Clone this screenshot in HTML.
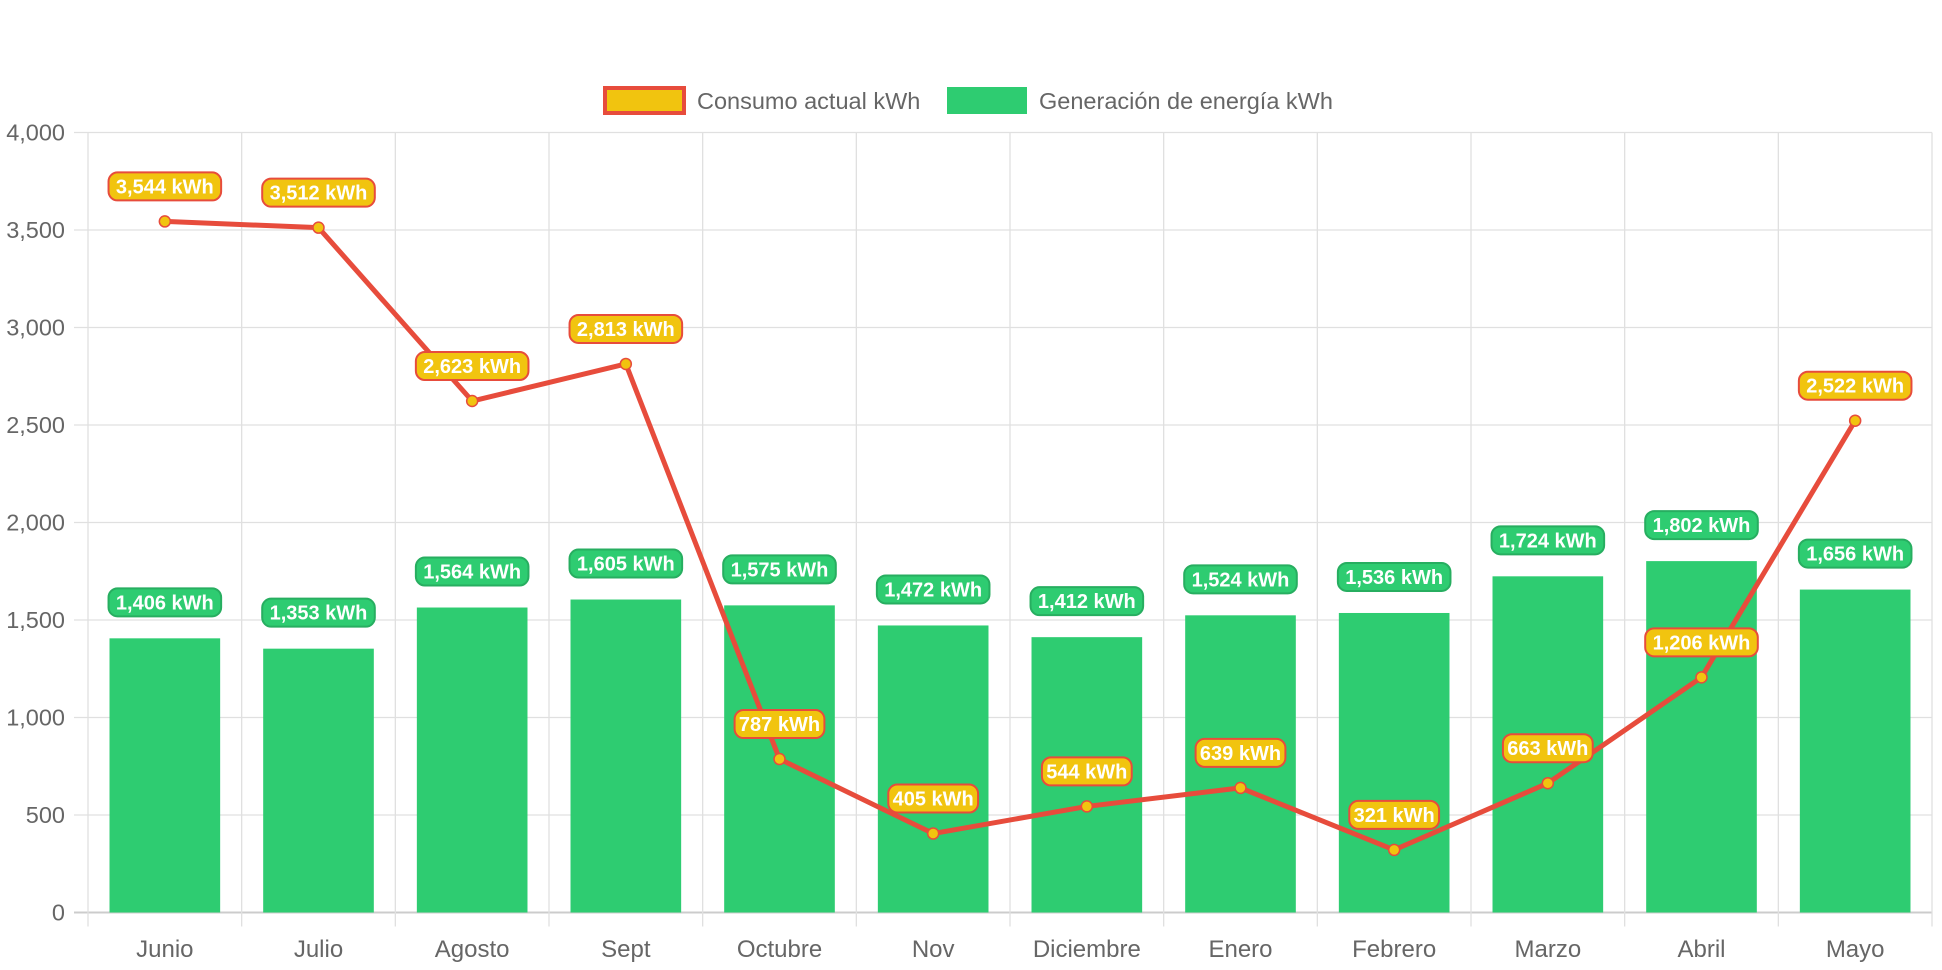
<!DOCTYPE html>
<html><head><meta charset="utf-8"><style>
html,body{margin:0;padding:0;background:#fff;}
svg{display:block;font-family:"Liberation Sans",Arial,sans-serif;}
</style></head><body>
<svg id="chart" width="1942" height="970" viewBox="0 0 1942 970"></svg>
<script>
const categories=["Junio","Julio","Agosto","Sept","Octubre","Nov","Diciembre","Enero","Febrero","Marzo","Abril","Mayo"];
const consumo=[3544,3512,2623,2813,787,405,544,639,321,663,1206,2522];
const generacion=[1406,1353,1564,1605,1575,1472,1412,1524,1536,1724,1802,1656];
const yTicks=[0,500,1000,1500,2000,2500,3000,3500,4000];
const NS="http://www.w3.org/2000/svg";
const svg=document.getElementById('chart');
const L=88,R=1932,T=132.5,B=912.5,yMax=4000;
const cw=(R-L)/categories.length;
const x=i=>L+cw*(i+0.5);
const y=v=>B-(v/yMax)*(B-T);
function mk(tag,attrs,parent){const e=document.createElementNS(NS,tag);for(const k in attrs)e.setAttribute(k,attrs[k]);(parent||svg).appendChild(e);return e;}
const fmt=v=>v.toLocaleString('en-US');
const grid=mk('g',{});


yTicks.forEach(t=>{
  const ln=mk('line',{x1:L-14,x2:R,y1:y(t),y2:y(t),stroke:t===0?'#ccc':'#e0e0e0','stroke-width':t===0?2:1.3},grid);
  
  
  const tx=mk('text',{x:L-23,y:y(t)+8,'text-anchor':'end','font-size':23.5,fill:'#666'},grid);
  tx.textContent=fmt(t);
  
  
});
for(let i=0;i<=categories.length;i++){
  const gx=L+cw*i;
  const ln=mk('line',{x1:gx,x2:gx,y1:T,y2:B+14,stroke:'#e0e0e0','stroke-width':1.3},grid);
  
  
}
categories.forEach((c,i)=>{
  const tx=mk('text',{x:x(i),y:957,'text-anchor':'middle','font-size':24,fill:'#666'});
  tx.textContent=c;
  
  
});
const bw=cw*0.72;
generacion.forEach((v,i)=>{
  const r=mk('rect',{x:x(i)-bw/2,y:y(v),width:bw,height:B-y(v),fill:'#2ecc71'});
  
  
});
const pts=consumo.map((v,i)=>x(i)+','+y(v)).join(' ');
const pl=mk('polyline',{points:pts,fill:'none',stroke:'#e74c3c','stroke-width':5,'stroke-linejoin':'round'});


consumo.forEach((v,i)=>{
  const c=mk('circle',{cx:x(i),cy:y(v),r:5.5,fill:'#f1c40f',stroke:'#e74c3c','stroke-width':1.5});
  
  
});
function badge(cx,cy,text,fill,stroke,name){
  const g=mk('g',{});
  
  
  const w=text.length*11.4+10,h=28;
  mk('rect',{x:cx-w/2,y:cy-h/2,width:w,height:h,rx:9,fill:fill,stroke:stroke,'stroke-width':2},g);
  const t=mk('text',{x:cx,y:cy+7,'text-anchor':'middle','font-size':20,'font-weight':'bold',fill:'#fff'},g);
  t.textContent=text;
}
generacion.forEach((v,i)=>badge(x(i),y(v)-36,fmt(v)+' kWh','#2ecc71','#27ae60','generation-value-label'));
consumo.forEach((v,i)=>badge(x(i),y(v)-35,fmt(v)+' kWh','#f1c40f','#e74c3c','consumption-value-label'));
const lg=mk('g',{});


const l1=mk('g',{},lg);


mk('rect',{x:605,y:88,width:79,height:25,fill:'#f1c40f',stroke:'#e74c3c','stroke-width':4},l1);
const t1=mk('text',{x:697,y:109,'font-size':23.5,fill:'#666'},l1);t1.textContent='Consumo actual kWh';
const l2=mk('g',{},lg);


mk('rect',{x:947,y:87,width:80,height:27,fill:'#2ecc71'},l2);
const t2=mk('text',{x:1039,y:109,'font-size':23.5,fill:'#666'},l2);t2.textContent='Generación de energía kWh';
</script>
</body></html>
